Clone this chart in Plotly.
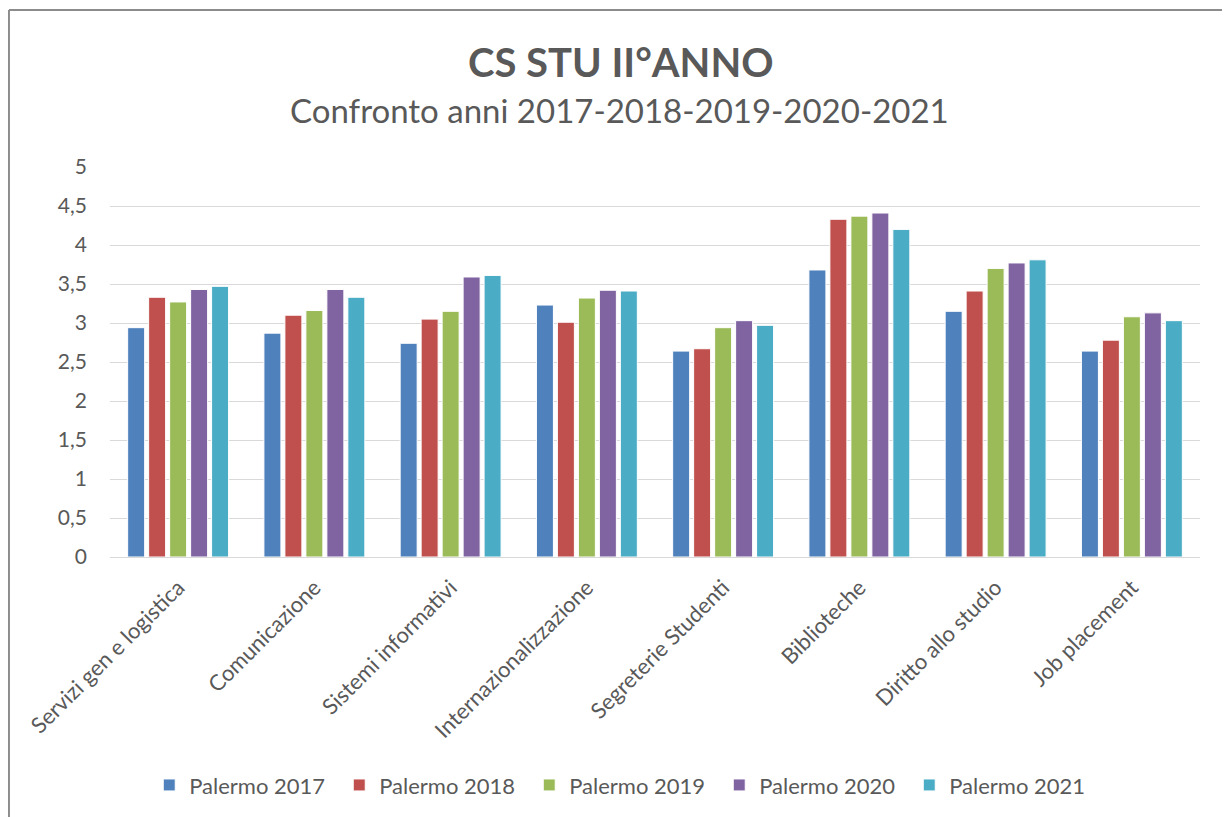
import plotly.graph_objects as go

categories = ["Servizi gen e logistica", "Comunicazione", "Sistemi informativi",
              "Internazionalizzazione", "Segreterie Studenti", "Biblioteche",
              "Diritto allo studio", "Job placement"]
series_names = ["Palermo 2017", "Palermo 2018", "Palermo 2019", "Palermo 2020", "Palermo 2021"]
v2017 = [2.94, 2.87, 2.74, 3.23, 2.64, 3.68, 3.15, 2.64]
v2018 = [3.33, 3.10, 3.05, 3.01, 2.67, 4.33, 3.41, 2.78]
v2019 = [3.27, 3.16, 3.15, 3.32, 2.94, 4.37, 3.70, 3.08]
v2020 = [3.43, 3.43, 3.59, 3.42, 3.03, 4.41, 3.77, 3.13]
v2021 = [3.47, 3.33, 3.61, 3.41, 2.97, 4.20, 3.81, 3.03]
colors = ["#4F81BD", "#C0504D", "#9BBB59", "#8064A2", "#4BACC6"]
y_ticks = [0, 0.5, 1, 1.5, 2, 2.5, 3, 3.5, 4, 4.5, 5]

FONT = "Lato"
fig = go.Figure()
for name, vals, col in zip(series_names, [v2017, v2018, v2019, v2020, v2021], colors):
    fig.add_trace(go.Bar(x=categories, y=vals, name=name,
                         marker=dict(color=col, line=dict(color="white", width=1))))

fig.update_layout(
    width=1230, height=817,
    margin=dict(l=102, r=38, t=159, b=268, autoexpand=False),
    paper_bgcolor="white", plot_bgcolor="white",
    separators=",.",
    barmode="group", bargap=0.23, bargroupgap=0.19,
    font=dict(family=FONT, color="#595959", size=20),
    showlegend=True,
    legend=dict(orientation="h", x=0.036, xanchor="left", y=-0.585, yanchor="middle",
                font=dict(size=22, color="#595959"), traceorder="normal",
                itemwidth=30, entrywidth=145),
    annotations=[
        dict(text="<b>CS STU II°ANNO</b>", xref="paper", yref="paper", x=0.469, y=1.269,
             showarrow=False, font=dict(size=40, color="#595959", family=FONT),
             xanchor="center", yanchor="middle"),
        dict(text="Confronto anni 2017-2018-2019-2020-2021", xref="paper", yref="paper",
             x=0.467, y=1.146, showarrow=False,
             font=dict(size=33, color="#595959", family=FONT),
             xanchor="center", yanchor="middle"),
    ],
    shapes=[
        dict(type="line", xref="paper", yref="paper", x0=-0.0927, x1=-0.0927, y0=1.4026, y1=-1.0,
             line=dict(color="#8C8C8C", width=2)),
        dict(type="line", xref="paper", yref="paper", x0=-0.0927, x1=1.05, y0=1.4026, y1=1.4026,
             line=dict(color="#8C8C8C", width=2)),
    ],
)
fig.update_yaxes(range=[0, 5], tickvals=y_ticks, showgrid=True, gridcolor="#D9D9D9",
                 gridwidth=1, zeroline=False, showline=False, automargin=False,
                 tickfont=dict(size=21, color="#595959"), ticks="", ticklabelstandoff=22)
fig.update_xaxes(showline=True, linecolor="#D9D9D9", linewidth=1, ticks="", automargin=False,
                 tickangle=-45, tickfont=dict(size=22, color="#595959"), ticklabelstandoff=8)

fig.write_html("out.html")
